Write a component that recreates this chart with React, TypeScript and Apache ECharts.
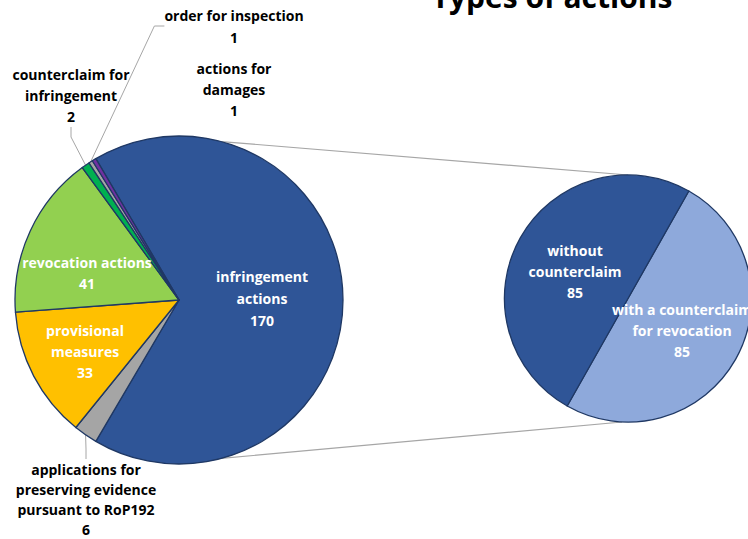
import React, { useEffect, useRef } from "react";
import * as echarts from "echarts";

// ---- data ----
const titleText = "Types of actions";
const mainCategories = [
  "infringement actions",
  "applications for preserving evidence pursuant to RoP192",
  "provisional measures",
  "revocation actions",
  "counterclaim for infringement",
  "order for inspection",
  "actions for damages",
];
const mainLabelTexts = [
  "infringement\nactions",
  "applications for\npreserving evidence\npursuant to RoP192",
  "provisional\nmeasures",
  "revocation actions",
  "counterclaim for\ninfringement",
  "order for inspection",
  "actions for\ndamages",
];
const mainValues = [170, 6, 33, 41, 2, 1, 1];
const subCategories = ["with a counterclaim for revocation", "without counterclaim"];
const subLabelTexts = ["with a counterclaim\nfor revocation", "without\ncounterclaim"];
const subValues = [85, 85];

// ---- styles / layout ----
const W = 748;
const H = 539;
const MAIN = { cx: 179, cy: 300, r: 164 };
const SUB = { cx: 628, cy: 298.5, r: 123.5 };
const mainColors = ["#2F5597", "#A5A5A5", "#FFC000", "#92D050", "#00B050", "#A5A5A5", "#7030A0"];
const subColors = ["#8EA9DB", "#2F5597"];
const mainInside = [true, false, true, true, false, false, false];
const mainShowLine = [false, true, false, false, true, true, false];
const mainLabelPlace: [number, number, string][] = [
  [262, 298, "middle"],
  [86, 459, "top"],
  [85, 351, "middle"],
  [87, 273, "middle"],
  [71, 64, "top"],
  [234, 4, "top"],
  [234, 58, "top"],
];
const mainLineHeights = [22, 20, 21, 21, 21, 22, 21];
const subLabelPlace: [number, number][] = [
  [682, 330],
  [575, 271],
];
const FONT = "Open Sans";
const BORDER = "#1F3864";

export default function App() {
  const ref = useRef<HTMLDivElement>(null);
  useEffect(() => {
    if (!ref.current) return;
    const chart = echarts.init(ref.current, undefined, { renderer: "svg" });
    const total = mainValues.reduce((a, b) => a + b, 0);
    const mainStart = (mainValues[0] / total) * 180;
    const subStart = 60.5;

    const connAngle = (75 * Math.PI) / 180;
    const topStart = [MAIN.cx + MAIN.r * Math.cos(connAngle), MAIN.cy - MAIN.r * Math.sin(connAngle)];
    const botStart = [MAIN.cx + MAIN.r * Math.cos(connAngle), MAIN.cy + MAIN.r * Math.sin(connAngle)];
    const topEnd = [SUB.cx, SUB.cy - SUB.r];
    const botEnd = [SUB.cx - 6, SUB.cy + SUB.r];

    const labelBase = {
      fontFamily: FONT,
      fontWeight: "bold" as const,
      fontSize: 14,
      lineHeight: 21,
      align: "center" as const,
    };

    chart.setOption({
      animation: false,
      backgroundColor: "#ffffff",
      graphic: [
        {
          type: "text",
          x: 552,
          y: -4,
          style: {
            text: titleText,
            fontFamily: FONT,
            fontWeight: "bold",
            fontSize: 30,
            fill: "#000",
            align: "center",
            verticalAlign: "middle",
            textAlign: "center",
            textVerticalAlign: "middle",
          },
        },
        {
          type: "line",
          shape: { x1: topStart[0], y1: topStart[1], x2: topEnd[0], y2: topEnd[1] },
          style: { stroke: "#A6A6A6", lineWidth: 1.2 },
          z: -1,
        },
        {
          type: "line",
          shape: { x1: botStart[0], y1: botStart[1], x2: botEnd[0], y2: botEnd[1] },
          style: { stroke: "#A6A6A6", lineWidth: 1.2 },
          z: -1,
        },
      ],
      series: [
        {
          type: "pie",
          center: [MAIN.cx, MAIN.cy],
          radius: [0, MAIN.r],
          startAngle: mainStart,
          clockwise: true,
          avoidLabelOverlap: false,
          itemStyle: { borderColor: BORDER, borderWidth: 1.3 },
          emphasis: { disabled: true },
          labelLine: { lineStyle: { color: "#A6A6A6", width: 1 }, length: 10, length2: 10 },
          label: {
            ...labelBase,
            formatter: (p: any) => mainLabelTexts[p.dataIndex] + "\n" + p.value,
          },
          labelLayout: (p: any) => {
            const pl = mainLabelPlace[p.dataIndex];
            return { x: pl[0], y: pl[1], align: "center", verticalAlign: pl[2] };
          },
          data: mainCategories.map((name, i) => ({
            name,
            value: mainValues[i],
            itemStyle: { color: mainColors[i] },
            label: {
              position: mainInside[i] ? "inside" : "outside",
              color: mainInside[i] ? "#ffffff" : "#000000",
              lineHeight: mainLineHeights[i],
            },
            labelLine: { show: mainShowLine[i] },
          })),
        },
        {
          type: "pie",
          center: [SUB.cx, SUB.cy],
          radius: [0, SUB.r],
          startAngle: subStart,
          clockwise: true,
          avoidLabelOverlap: false,
          itemStyle: { borderColor: BORDER, borderWidth: 1.3 },
          emphasis: { disabled: true },
          label: {
            ...labelBase,
            position: "inside",
            color: "#ffffff",
            formatter: (p: any) => subLabelTexts[p.dataIndex] + "\n" + p.value,
          },
          labelLayout: (p: any) => {
            const pl = subLabelPlace[p.dataIndex];
            return { x: pl[0], y: pl[1], align: "center", verticalAlign: "middle" };
          },
          data: subCategories.map((name, i) => ({
            name,
            value: subValues[i],
            itemStyle: { color: subColors[i] },
          })),
        },
      ],
    });
    return () => chart.dispose();
  }, []);
  return (
    <div
      ref={ref}
      style={{ position: "absolute", left: 0, top: 0, width: W, height: H }}
    />
  );
}
